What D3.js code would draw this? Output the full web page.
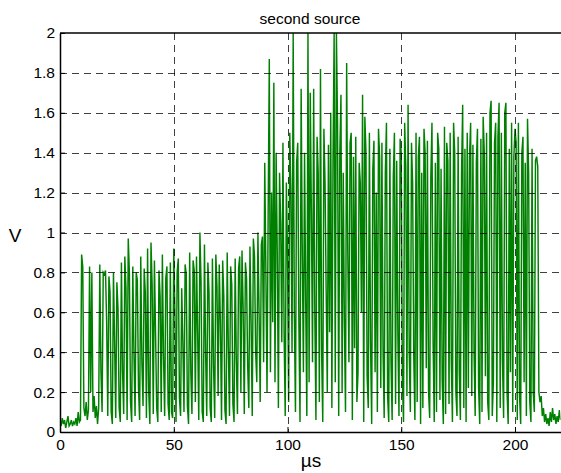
<!DOCTYPE html>
<html><head><meta charset="utf-8">
<script src="https://cdn.jsdelivr.net/npm/d3@7/dist/d3.min.js"></script>
<style>
body{margin:0;background:#fff;}
svg{display:block;font-family:"Liberation Sans",Arial,Helvetica,sans-serif;}
</style></head>
<body>
<svg id="chart" width="561" height="473"></svg>
<script>
// ---- data ----
const chartTitle = "second source";
const xLabel = "\u00b5s";
const yLabel = "V";
const xTicks = [0, 50, 100, 150, 200];
const yTicks = [0, 0.2, 0.4, 0.6, 0.8, 1, 1.2, 1.4, 1.6, 1.8, 2];
const sampleStart = 0;     // µs
const sampleStep = 0.5;    // µs between samples
// voltage samples (V), 20 samples per 10 µs row
const voltage = [
0.05,0.03,0.07,0.04,0.06,0.02,0.05,0.08,0.03,0.04,0.06,0.03,0.05,0.04,0.07,0.03,0.10,0.05,0.06,0.89,
0.83,0.12,0.08,0.15,0.06,0.11,0.83,0.20,0.80,0.10,0.18,0.07,0.13,0.04,0.12,0.84,0.30,0.10,0.80,0.79,
0.81,0.55,0.08,0.78,0.70,0.10,0.04,0.80,0.45,0.07,0.75,0.62,0.12,0.05,0.85,0.30,0.09,0.88,0.72,0.06,
0.97,0.80,0.15,0.05,0.83,0.40,0.08,0.80,0.76,0.22,0.06,0.88,0.35,0.13,0.82,0.70,0.07,0.92,0.20,0.04,
0.95,0.74,0.09,0.86,0.50,0.12,0.05,0.81,0.68,0.10,0.89,0.38,0.08,0.77,0.83,0.14,0.06,0.85,0.10,0.07,
0.92,0.60,0.05,0.80,0.87,0.17,0.08,0.72,0.45,0.10,0.84,0.79,0.13,0.04,0.90,0.30,0.09,0.86,0.81,0.15,
0.88,0.50,0.06,1.00,0.75,0.10,0.05,0.94,0.40,0.08,0.85,0.70,0.12,0.05,0.87,0.33,0.07,0.89,0.73,0.18,
0.84,0.55,0.06,0.86,0.68,0.11,0.04,0.90,0.42,0.08,0.83,0.74,0.14,0.05,0.87,0.36,0.09,0.82,0.88,0.20,
0.91,0.62,0.09,0.85,0.77,0.33,0.12,0.93,0.55,0.08,0.97,0.88,0.40,0.25,1.00,0.60,0.15,0.94,0.98,0.35,
1.35,0.80,0.20,1.10,1.87,0.30,1.20,0.55,1.75,0.25,1.40,0.90,0.12,1.30,1.05,0.45,1.45,0.50,0.08,1.25,
0.90,0.15,1.50,1.20,0.40,2.00,0.60,0.10,1.35,1.45,0.55,0.05,1.72,0.90,0.30,1.40,0.65,0.08,2.00,0.25,
1.70,1.10,0.35,1.72,0.60,0.06,1.48,1.30,0.15,1.82,0.40,0.05,1.52,1.25,0.70,0.20,1.44,0.50,1.60,0.12,
1.35,2.00,0.25,2.00,1.55,0.08,1.40,1.69,0.20,1.30,0.55,0.10,1.85,0.90,0.35,1.45,1.50,0.06,1.38,0.42,
1.48,0.15,0.30,1.35,1.25,0.60,1.69,0.05,1.58,1.40,0.28,0.12,1.50,0.45,0.04,1.32,1.46,0.30,1.20,0.10,
1.52,1.38,0.22,1.45,0.40,0.07,1.30,1.55,0.18,0.05,1.42,0.35,0.06,1.28,1.50,0.14,1.36,0.50,0.08,1.47,
1.40,0.25,0.05,1.55,1.33,0.18,1.64,0.40,0.10,1.45,1.25,0.38,0.06,1.50,0.15,1.38,1.48,0.04,1.30,0.12,
1.52,1.40,0.32,1.46,0.20,0.07,1.28,1.55,0.45,0.05,1.35,0.10,1.50,1.42,0.16,1.32,0.26,0.04,1.53,0.09,
1.45,1.36,0.14,1.50,0.35,0.05,1.55,1.40,0.20,0.08,1.48,0.30,0.06,1.30,1.64,0.12,1.42,0.05,1.50,0.22,
1.38,1.55,0.18,1.44,0.40,0.08,1.35,1.52,0.22,0.04,1.47,0.10,1.58,1.40,0.28,1.50,0.15,0.06,1.60,1.66,
0.08,0.25,1.45,1.55,0.05,1.48,1.65,0.12,1.50,0.35,0.07,1.60,1.65,0.20,0.04,1.42,0.30,1.55,0.10,1.38,
1.52,1.45,0.06,1.55,0.18,0.04,1.40,1.48,0.25,1.35,0.08,1.57,1.30,0.15,0.05,1.42,0.20,0.10,1.36,1.38,
1.33,0.20,0.15,0.18,0.08,0.12,0.05,0.09,0.04,0.07,0.03,0.10,0.05,0.12,0.06,0.09,0.04,0.08,0.05,0.11,
0.06
];

// ---- layout ----
const W = 561, H = 473;
const m = {left: 60, top: 33, right: 561 - 560.5, bottom: 473 - 432};
const svg = d3.select("#chart");
const x = d3.scaleLinear().domain([0, 220]).range([m.left, W - m.right]);
const y = d3.scaleLinear().domain([0, 2]).range([H - m.bottom, m.top]);

const points = voltage.map((v, i) => ({t: sampleStart + i * sampleStep, v}));

svg.append("defs").append("clipPath").attr("id", "clip")
  .append("rect").attr("x", x(0)).attr("y", y(2)).attr("width", x(220) - x(0)).attr("height", y(0) - y(2));

// data line
svg.append("path")
  .datum(points)
  .attr("clip-path", "url(#clip)")
  .attr("fill", "none")
  .attr("stroke", "#008000")
  .attr("stroke-width", 1.45)
  .attr("d", d3.line().x(d => x(d.t)).y(d => y(d.v)));

// grid (drawn on top, as in the reference)
const grid = svg.append("g").attr("stroke", "#000").attr("stroke-opacity", 0.75)
  .attr("stroke-width", 1).attr("stroke-dasharray", "7,5");
grid.selectAll(".gx").data(xTicks.filter(t => t > 0)).join("line")
  .attr("x1", d => Math.round(x(d)) + 0.5).attr("x2", d => Math.round(x(d)) + 0.5)
  .attr("y1", y(2)).attr("y2", y(0));
grid.selectAll(".gy").data(yTicks.filter(t => t > 0 && t < 2)).join("line")
  .attr("x1", x(0)).attr("x2", x(220))
  .attr("y1", d => Math.round(y(d)) + 0.5).attr("y2", d => Math.round(y(d)) + 0.5);

// axes
const xAxis = d3.axisBottom(x).tickValues(xTicks).tickFormat(d3.format("d")).tickSizeInner(-5).tickSizeOuter(0).tickPadding(7);
const yAxis = d3.axisLeft(y).tickValues(yTicks).tickFormat(d => String(+d.toFixed(1))).tickSizeInner(-5).tickSizeOuter(0).tickPadding(5);

const gx = svg.append("g").attr("transform", `translate(0,${y(0)})`).call(xAxis);
const gy = svg.append("g").attr("transform", `translate(${x(0)},0)`).call(yAxis);
[gx, gy].forEach(g => {
  g.select(".domain").attr("stroke", "#000").attr("stroke-width", 1.5);
  g.selectAll(".tick line").attr("stroke", "#000");
  g.selectAll(".tick text").attr("fill", "#000").style("font-size", "15.5px");
});
// top border
svg.append("line").attr("x1", x(0)).attr("x2", W).attr("y1", y(2)).attr("y2", y(2))
  .attr("stroke", "#000").attr("stroke-width", 1.5);

// labels
svg.append("text").attr("x", 310).attr("y", 24).attr("text-anchor", "middle")
  .style("font-size", "15.5px").attr("fill", "#000").text(chartTitle);
svg.append("text").attr("x", 311).attr("y", 467).attr("text-anchor", "middle")
  .style("font-size", "19px").attr("fill", "#000").text(xLabel);
svg.append("text").attr("x", 15).attr("y", 242).attr("text-anchor", "middle")
  .style("font-size", "19px").attr("fill", "#000").text(yLabel);
</script>
</body></html>
